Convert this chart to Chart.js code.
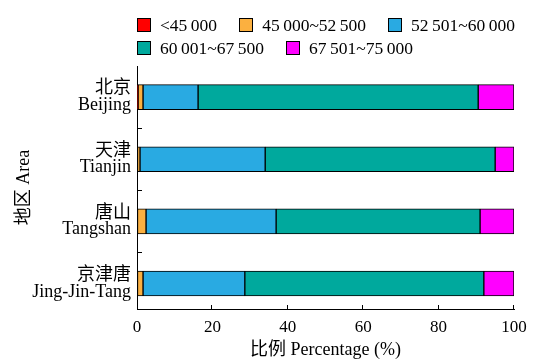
<!DOCTYPE html>
<html>
<head>
<meta charset="utf-8">
<script src="https://cdn.jsdelivr.net/npm/chart.js@4"></script>
<style>
  html, body { margin: 0; padding: 0; background: #fff; }
  #wrap { position: relative; width: 540px; height: 362px; }
  #legend {
    position: absolute; left: 137px; top: 16px; width: 398px;
    display: flex; flex-wrap: wrap; column-gap: 22px; row-gap: 5px;
    font: 17.5px "Liberation Serif", "Noto Sans CJK SC", serif; color: #000;
  }
  .item { display: flex; align-items: center; height: 18px; }
  .box { width: 12px; height: 12px; border: 1px solid #000; margin-right: 9px; }
</style>
</head>
<body>
<div id="wrap">
  <canvas id="c" width="540" height="362"></canvas>
  <div id="legend"></div>
</div>
<script>
const areas = [["北京", "Beijing"], ["天津", "Tianjin"], ["唐山", "Tangshan"], ["京津唐", "Jing-Jin-Tang"]];
const bands = ["<45\u2009000", "45\u2009000~52\u2009500", "52\u2009501~60\u2009000", "60\u2009001~67\u2009500", "67\u2009501~75\u2009000"];
const colors = ["#ff0000", "#fbb040", "#29aae2", "#00a99d", "#ff00ff"];

// percentage per band, one value per area (Beijing, Tianjin, Tangshan, Jing-Jin-Tang)
const below45000 = [0.3, 0, 0, 0];
const from45000 = [1.3, 0.8, 2.4, 1.6];
const from52501 = [14.6, 33.2, 34.5, 27.0];
const from60001 = [74.3, 61.0, 54.1, 63.4];
const from67501 = [9.5, 5.0, 9.0, 8.0];
const series = [below45000, from45000, from52501, from60001, from67501];

const xTicks = [0, 20, 40, 60, 80, 100];

const serif = '"Liberation Serif", "Noto Sans CJK SC", serif';

// legend
const legend = document.getElementById("legend");
bands.forEach((b, i) => {
  const it = document.createElement("div");
  it.className = "item";
  const bx = document.createElement("span");
  bx.className = "box";
  bx.style.background = colors[i];
  const tx = document.createElement("span");
  tx.textContent = b;
  it.appendChild(bx); it.appendChild(tx);
  legend.appendChild(it);
});

// inward tick marks
const innerTicks = {
  id: "innerTicks",
  afterDraw(chart) {
    const {ctx, chartArea, scales: {x, y}} = chart;
    ctx.save();
    ctx.strokeStyle = "#000";
    ctx.lineWidth = 1;
    ctx.beginPath();
    for (let i = 0; i < areas.length - 1; i++) {
      const py = Math.round(y.getPixelForValue(i + 0.5)) + 0.5;
      ctx.moveTo(chartArea.left, py);
      ctx.lineTo(chartArea.left + 5, py);
    }
    xTicks.slice(1).forEach(v => {
      const px = Math.round(x.getPixelForValue(v)) - 0.5;
      ctx.moveTo(px, chartArea.bottom);
      ctx.lineTo(px, chartArea.bottom - 4);
    });
    ctx.stroke();
    ctx.restore();
  }
};

new Chart(document.getElementById("c"), {
  type: "bar",
  data: {
    datasets: series.map((vals, i) => ({
      label: bands[i],
      data: vals.map((v, j) => ({x: v, y: j})),
      stack: "all",
      backgroundColor: colors[i],
      borderColor: "#000",
      borderWidth: 1,
      borderSkipped: false,
      barThickness: 25
    }))
  },
  options: {
    indexAxis: "y",
    responsive: false,
    animation: false,
    layout: {padding: {left: 0, top: 66, right: 26, bottom: 0}},
    plugins: {legend: {display: false}, tooltip: {enabled: false}},
    scales: {
      x: {
        type: "linear",
        stacked: true,
        min: 0, max: 100,
        afterBuildTicks: s => { s.ticks = xTicks.map(v => ({value: v})); },
        afterFit: s => { s.height = 53; },
        grid: {display: true, drawOnChartArea: false, drawTicks: false},
        border: {display: true, color: "#000", width: 1},
        ticks: {color: "#000", padding: 8, font: {family: serif, size: 17}},
        title: {display: true, text: "比例 Percentage (%)", color: "#000",
                font: {family: serif, size: 18}, padding: {top: 0, bottom: 1}}
      },
      y: {
        type: "linear",
        reverse: true,
        offset: false,
        min: -0.5, max: 3.41,
        afterBuildTicks: s => { s.ticks = areas.map((_, i) => ({value: i})); },
        afterFit: s => { s.width = 137; },
        grid: {display: true, offset: false, drawOnChartArea: false, drawTicks: false},
        border: {display: true, color: "#000", width: 1},
        ticks: {color: "#000", padding: 6, autoSkip: false,
                font: {family: serif, size: 18, lineHeight: 0.93},
                callback: v => areas[v]},
        title: {display: true, text: "地区 Area", color: "#000",
                font: {family: serif, size: 18}, padding: {top: 13, bottom: 0}}
      }
    }
  },
  plugins: [innerTicks]
});
</script>
</body>
</html>
